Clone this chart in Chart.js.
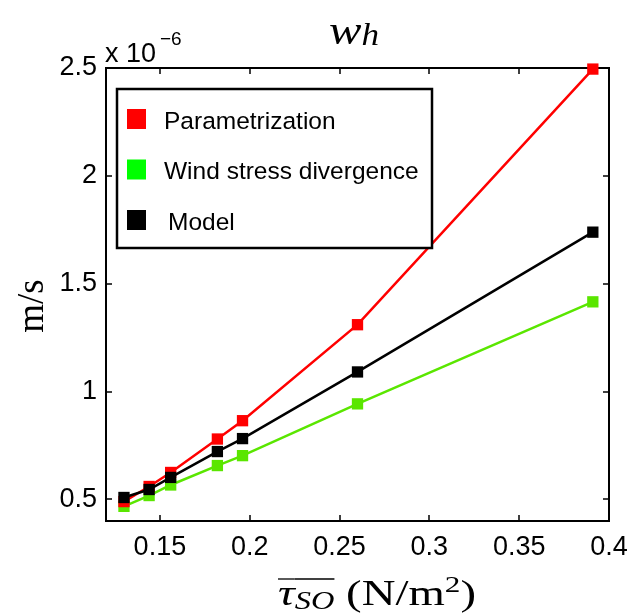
<!DOCTYPE html>
<html>
<head>
<meta charset="utf-8">
<script src="https://cdn.jsdelivr.net/npm/chart.js@4.4.0/dist/chart.umd.min.js"></script>
<style>
  body { margin: 0; background: #fff; }
</style>
</head>
<body>
<canvas id="chart" width="643" height="613"></canvas>
<script>
'use strict';

//wind stress on the x axis (N/m^2)
var tauValues = [0.13, 0.144, 0.156, 0.182, 0.196, 0.26, 0.391];
//w_h values, in units of 1e-6 m/s
var paramValues = [0.49, 0.56, 0.625, 0.78, 0.865, 1.31, 2.495];
var windValues = [0.468, 0.518, 0.567, 0.657, 0.703, 0.943, 1.416];
var modelValues = [0.509, 0.546, 0.602, 0.722, 0.782, 1.091, 1.739];
var xTicks = [0.15, 0.2, 0.25, 0.3, 0.35, 0.4];
var yTicks = [0.5, 1, 1.5, 2, 2.5];
var seriesNames = ['Parametrization', 'Wind stress divergence', 'Model'];
var lineColors = ['#ff0000', '#5ae600', '#000000'];
var legendColors = ['#ff0000', '#00ff00', '#000000'];

var SERIF = '"Liberation Serif", "Times New Roman", serif';
var SANS = '"Liberation Sans", Arial, sans-serif';

function toPoints(values) {
  return values.map(function(v, i) { return { x: tauValues[i], y: v }; });
}

function makeDataset(i, values, order) {
  return {
    label: seriesNames[i],
    data: toPoints(values),
    borderColor: lineColors[i],
    backgroundColor: lineColors[i],
    borderWidth: 2.5,
    pointStyle: 'rect',
    pointRadius: 8,
    pointBorderWidth: 0,
    tension: 0,
    clip: false,
    order: order
  };
}

//draw pieces of text one after another, stretched to a given width
function drawPieces(ctx, parts, left, base, width) {
  var total = 0;
  parts.forEach(function(p) { ctx.font = p.f; p.w = ctx.measureText(p.t).width; total += p.w; });
  var sx = width / total;
  ctx.save();
  ctx.translate(left, base);
  ctx.scale(sx, 1);
  var x = 0;
  parts.forEach(function(p) {
    ctx.font = p.f;
    ctx.fillText(p.t, x, p.dy);
    if (p.bar) {
      ctx.lineWidth = 1.3;
      ctx.beginPath();
      ctx.moveTo(x, p.bar);
      ctx.lineTo(x + p.w, p.bar);
      ctx.stroke();
    }
    x += p.w;
  });
  ctx.restore();
}

//draws the box, the inside ticks and the legend, matlab style
var matlabFrame = {
  id: 'matlabFrame',
  beforeDatasetsDraw: function(chart) {
    var ctx = chart.ctx;
    var a = chart.chartArea;
    var xs = chart.scales.x;
    var ys = chart.scales.y;
    ctx.save();
    ctx.strokeStyle = '#000';
    ctx.lineWidth = 2;
    ctx.strokeRect(a.left, a.top, a.right - a.left, a.bottom - a.top);
    ctx.lineWidth = 1.5;
    ctx.beginPath();
    xs.ticks.forEach(function(t) {
      var px = Math.round(xs.getPixelForValue(t.value));
      ctx.moveTo(px, a.bottom); ctx.lineTo(px, a.bottom - 6);
      ctx.moveTo(px, a.top); ctx.lineTo(px, a.top + 6);
    });
    ys.ticks.forEach(function(t) {
      var py = Math.round(ys.getPixelForValue(t.value));
      ctx.moveTo(a.left, py); ctx.lineTo(a.left + 6, py);
      ctx.moveTo(a.right, py); ctx.lineTo(a.right - 6, py);
    });
    ctx.stroke();
    ctx.restore();
  },
  afterDraw: function(chart) {
    var ctx = chart.ctx;
    ctx.save();

    //legend box
    ctx.fillStyle = '#fff';
    ctx.fillRect(117, 89, 315, 159);
    ctx.strokeStyle = '#000';
    ctx.lineWidth = 2.5;
    ctx.strokeRect(117, 89, 315, 159);
    ctx.font = '24.5px ' + SANS;
    ctx.textBaseline = 'middle';
    ctx.textAlign = 'left';
    for (var i = 0; i < seriesNames.length; i++) {
      var cy = 119 + i * 50.5;
      ctx.fillStyle = legendColors[i];
      ctx.fillRect(127, cy - 10, 19, 20);
      ctx.fillStyle = '#000';
      ctx.fillText(seriesNames[i], i === 2 ? 168 : 164, cy + 3);
    }

    //exponent
    ctx.textBaseline = 'alphabetic';
    ctx.font = '27px ' + SANS;
    ctx.fillText('x 10', 105, 62);
    ctx.font = '19px ' + SANS;
    ctx.fillText('\u22126', 160, 45);

    //title w_h
    drawPieces(ctx, [
      { t: 'w', f: 'italic 43px ' + SERIF, dy: 0 },
      { t: 'h', f: 'italic 31px ' + SERIF, dy: 1 }
    ], 329, 44, 50);

    //y axis title
    ctx.save();
    ctx.translate(43, 306);
    ctx.rotate(-Math.PI / 2);
    ctx.textAlign = 'center';
    ctx.font = '37px ' + SERIF;
    ctx.fillText('m/s', 0, 0);
    ctx.restore();

    //x axis title: overline tau_SO (N/m^2)
    drawPieces(ctx, [
      { t: '\u03c4', f: 'italic 36px ' + SERIF, dy: 0, bar: -26 },
      { t: 'SO', f: 'italic 25px ' + SERIF, dy: 4, bar: -26 },
      { t: ' (N/m', f: '36px ' + SERIF, dy: 0 },
      { t: '2', f: '24px ' + SERIF, dy: -13 },
      { t: ')', f: '36px ' + SERIF, dy: 0 }
    ], 278, 605, 198);

    ctx.restore();
  }
};

var ctx = document.getElementById('chart').getContext('2d');
new Chart(ctx, {
  type: 'line',
  data: {
    datasets: [
      makeDataset(0, paramValues, 1),
      makeDataset(1, windValues, 2),
      makeDataset(2, modelValues, 0)
    ]
  },
  options: {
    responsive: false,
    animation: false,
    events: [],
    layout: { padding: { left: 0, top: 68, right: 34, bottom: 0 } },
    plugins: {
      legend: { display: false },
      tooltip: { enabled: false },
      title: { display: false }
    },
    scales: {
      x: {
        type: 'linear',
        min: 0.12,
        max: 0.4,
        grid: { display: false, drawTicks: false },
        border: { display: false },
        afterBuildTicks: function(axis) {
          axis.ticks = xTicks.map(function(v) { return { value: v }; });
        },
        afterFit: function(axis) { axis.height = 92; },
        ticks: {
          color: '#000',
          padding: 10,
          maxRotation: 0,
          font: { family: SANS, size: 27 },
          callback: function(v) { return String(v); }
        }
      },
      y: {
        type: 'linear',
        min: 0.4,
        max: 2.5,
        grid: { display: false, drawTicks: false },
        border: { display: false },
        afterBuildTicks: function(axis) {
          axis.ticks = yTicks.map(function(v) { return { value: v }; });
        },
        afterFit: function(axis) { axis.width = 106; },
        ticks: {
          color: '#000',
          padding: 9,
          font: { family: SANS, size: 27 },
          callback: function(v) { return String(v); }
        }
      }
    }
  },
  plugins: [matlabFrame]
});
</script>
</body>
</html>
